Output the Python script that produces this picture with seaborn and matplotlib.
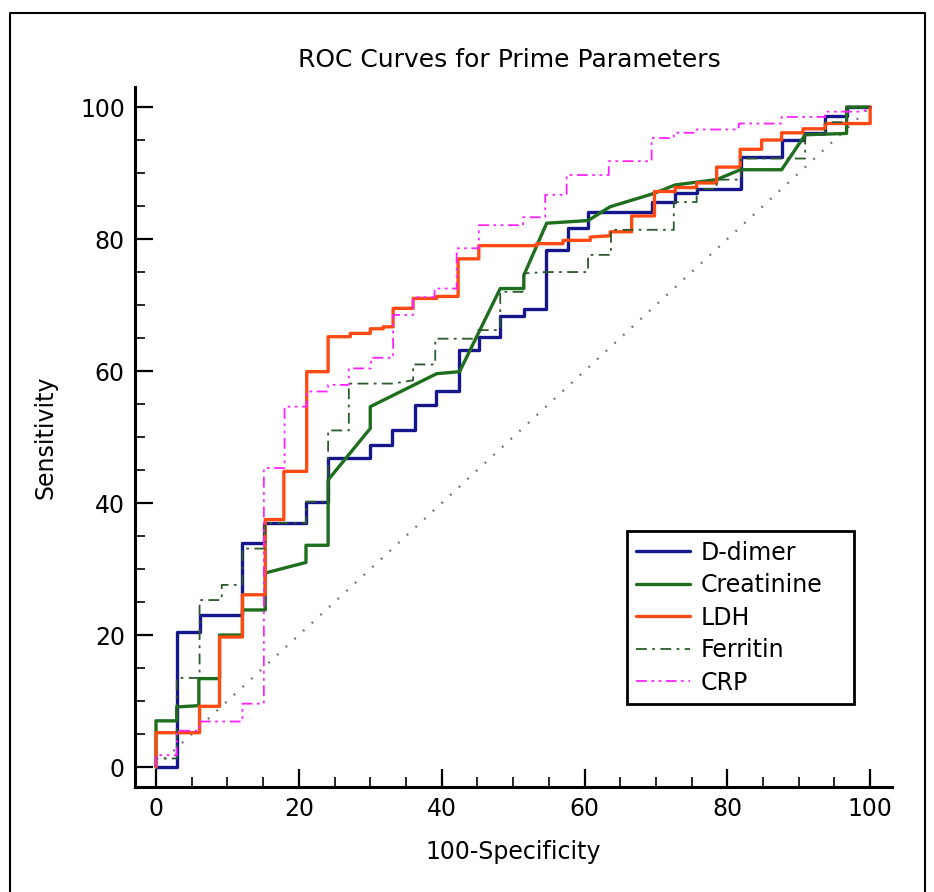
import numpy as np
import pandas as pd
import matplotlib
matplotlib.use("Agg")
import matplotlib.pyplot as plt
from matplotlib.lines import Line2D
import seaborn as sns

# ---------------- data (vertices of the ROC staircases) ----------------
ddimer_x = [0, 2.9, 2.9, 6.1, 6.1, 12.1, 12.1, 15.1, 15.1, 21, 21, 24.1, 24.1, 30, 30, 33, 33,
            36.3, 36.3, 39.2, 39.2, 42.4, 42.4, 45.2, 45.2, 48.2, 48.2, 51.5, 51.5, 54.6, 54.6,
            57.7, 57.7, 60.5, 60.5, 69.4, 69.4, 72.7, 72.7, 75.7, 75.7, 81.9, 81.9, 87.6, 87.6,
            90.7, 90.7, 93.7, 93.7, 96.7, 96.7, 100]
ddimer_y = [0, 0, 20.5, 20.5, 23, 23, 34, 34, 37, 37, 40.2, 40.2, 46.8, 46.8, 48.8, 48.8, 51.1,
            51.1, 54.8, 54.8, 56.9, 56.9, 63.2, 63.2, 65.1, 65.1, 68.3, 68.3, 69.4, 69.4, 78.3,
            78.3, 81.7, 81.7, 84.1, 84.1, 85.6, 85.6, 86.9, 86.9, 87.6, 87.6, 92.5, 92.5, 95,
            95, 96.1, 96.1, 98.6, 98.6, 100, 100]

creat_x = [0, 0, 2.9, 2.9, 6.0, 6.0, 8.9, 8.9, 12.1, 12.1, 15.3, 15.3, 21, 21, 24.1, 24.1, 30, 30,
           39.3, 42.5, 48.2, 51.5, 51.5, 54.7, 60.5, 63.6, 69.7, 72.7, 78.5, 81.8, 87.6, 90.9,
           96.7, 96.7, 100]
creat_y = [0, 7, 7, 9.1, 9.3, 13.4, 13.4, 20, 20, 23.8, 23.8, 29.4, 31, 33.6, 33.6, 43.5, 51.3, 54.6,
           59.6, 59.9, 72.5, 72.5, 74.5, 82.4, 82.8, 84.9, 86.9, 88.2, 89.0, 90.5, 90.5, 95.8,
           96, 100, 100]

ldh_x = [0, 0, 6.1, 6.1, 8.9, 8.9, 12.1, 12.1, 15.3, 15.3, 17.9, 17.9, 21.1, 21.1, 24.1, 24.1,
         27.2, 27.2, 30, 30, 31.8, 31.8, 33.2, 33.2, 36, 36, 39.3, 39.3, 42.3, 42.3, 45.2, 45.2,
         53.3, 53.3, 57, 57, 60.8, 60.8, 63.6, 63.6, 66.6, 66.6, 69.8, 69.8, 72.7, 72.7, 75.7,
         75.7, 78.5, 78.5, 81.8, 81.8, 84.8, 84.8, 87.6, 87.6, 90.6, 90.6, 93.7, 93.7, 100, 100]
ldh_y = [0, 5.2, 5.2, 9.2, 9.2, 19.7, 19.7, 26.1, 26.1, 37.5, 37.5, 44.8, 44.8, 59.9, 59.9, 65.2,
         65.2, 65.7, 65.7, 66.4, 66.4, 66.7, 66.7, 69.5, 69.5, 71, 71, 71.3, 71.3, 77, 77, 79,
         79, 79.3, 79.3, 79.8, 79.8, 80.3, 80.5, 81.1, 81.1, 83.5, 83.5, 87.2, 87.2, 87.8, 87.8,
         88.5, 88.5, 90.9, 90.9, 93.6, 93.6, 95, 95, 96.1, 96.1, 96.7, 96.7, 97.5, 97.5, 100]

ferritin_x = [0, 0, 2.9, 2.9, 6.1, 6.1, 9.2, 9.2, 12.1, 12.1, 15.3, 15.3, 21, 21, 24.1, 24.1, 27,
              27, 33.2, 36, 36, 39.1, 39.1, 45.1, 45.1, 48.2, 48.2, 51.5, 51.5, 54.6, 60.5, 60.5,
              63.7, 63.7, 72.5, 72.5, 75.7, 75.7, 78.5, 78.5, 81.9, 81.9, 90.9, 90.9, 93.7, 93.7,
              96.7, 96.7, 100]
ferritin_y = [0, 1.3, 1.3, 13.5, 13.5, 25.3, 25.3, 27.6, 27.6, 33.1, 33.1, 37, 37, 40.2, 40.2, 51,
              51, 58.1, 58.1, 58.6, 61, 61, 64.9, 64.9, 66.2, 66.2, 72, 72, 74.8, 75.0, 75.0, 77.6,
              77.6, 81.4, 81.4, 85.6, 85.6, 87.6, 87.6, 89, 89, 92.2, 92.2, 95.8, 95.8, 97.7,
              97.7, 100, 100]

crp_x = [0, 0, 2.9, 2.9, 6.1, 6.1, 12.1, 12.1, 15.1, 15.1, 18, 18, 21.1, 21.1, 24.1, 24.1, 27,
         27, 30.1, 30.1, 33.2, 33.2, 36, 36, 39, 39, 42.1, 42.1, 45.2, 45.2, 51.4, 51.4, 54.5,
         54.5, 57.5, 57.5, 63.4, 63.4, 69.4, 69.4, 72.5, 72.5, 75.7, 75.7, 81.6, 81.6, 87.6,
         87.6, 93.7, 93.7, 99, 100]
crp_y = [0, 1.8, 1.8, 5.5, 5.5, 6.9, 6.9, 9.6, 9.6, 45.3, 45.3, 54.6, 54.6, 56.9, 56.9, 57.9, 57.9,
         60.4, 60.4, 62, 62, 68.5, 68.5, 71.2, 71.2, 72.5, 72.5, 78.6, 78.6, 82.1, 82.1, 83.3,
         83.3, 86.7, 86.7, 89.7, 89.7, 91.8, 91.8, 95.3, 95.3, 96.1, 96.1, 96.6, 96.6, 97.5,
         97.5, 98.5, 98.5, 99.3, 99.3, 100]

diag_x = [0, 100]
diag_y = [0, 100]

series_names = ["D-dimer", "Creatinine", "LDH", "Ferritin", "CRP"]
x_ticks = [0, 20, 40, 60, 80, 100]
y_ticks = [0, 20, 40, 60, 80, 100]

# ---------------- styling ----------------
sns.set_style("white")
plt.rcParams["font.family"] = ["DejaVu Sans"]
plt.rcParams["text.color"] = "black"

fig = plt.figure(figsize=(9.34, 8.92), dpi=100)
ax = fig.add_axes([0.1441, 0.1179, 0.8105, 0.7843])

sns.lineplot(x=diag_x, y=diag_y, ax=ax, color="#6a6a6a", linewidth=1.6,
             linestyle=(0, (0.8, 4.5)), legend=False)

styles = [
    (ddimer_x, ddimer_y, "#16168c", 2.4, "-"),
    (creat_x, creat_y, "#1e6e1e", 2.4, "-"),
    (ldh_x, ldh_y, "#ff4a14", 2.4, "-"),
    (ferritin_x, ferritin_y, "#2a5a2a", 1.3, (0, (6, 3, 1.5, 3))),
    (crp_x, crp_y, "#ff22ff", 1.3, (0, (6, 2.5, 1.5, 2.5, 1.5, 2.5))),
]
for name, (xs, ys, col, lw, ls) in zip(series_names, styles):
    sns.lineplot(x=xs, y=ys, ax=ax, sort=False, estimator=None, color=col,
                 linewidth=lw, linestyle=ls, label=name)

ax.set_xlim(-3, 103)
ax.set_ylim(-3, 103)
ax.set_xticks(x_ticks)
ax.set_yticks(y_ticks)
ax.set_xticks(np.arange(0, 101, 5), minor=True)
ax.set_yticks(np.arange(0, 101, 5), minor=True)
ax.set_xticklabels([str(t) for t in x_ticks])
ax.set_yticklabels([str(t) for t in y_ticks])
ax.tick_params(which="major", direction="in", length=13, width=1.6, labelsize=17,
               colors="black", pad=7, left=True, bottom=True)
ax.tick_params(which="minor", direction="in", length=7, width=1.4, left=True, bottom=True)

for s in ["top", "right"]:
    ax.spines[s].set_visible(False)
for s in ["left", "bottom"]:
    ax.spines[s].set_color("black")
    ax.spines[s].set_linewidth(2.2)

ax.set_xlabel("100-Specificity", fontsize=17, labelpad=14, color="black")
ax.set_ylabel("Sensitivity", fontsize=17, labelpad=16, color="black")

fig.text(509 / 934, 1 - 60 / 892, "ROC Curves for Prime Parameters", ha="center",
         va="center", fontsize=18, color="black")

leg_w = 0.2999
leg_h = 0.2487
leg = ax.legend(loc="upper left", bbox_to_anchor=(0.6505, 0.3656 - leg_h, leg_w, leg_h),
                mode="expand", borderaxespad=0,
                frameon=True, fancybox=False, edgecolor="black", fontsize=17,
                handlelength=2.25, handletextpad=0.47, labelspacing=0.36, borderpad=0.4,
                framealpha=1)
leg.get_frame().set_linewidth(2)
for t in leg.get_texts():
    t.set_color("black")

# outer figure frame
fig.add_artist(Line2D([10 / 934, 10 / 934, 925 / 934, 925 / 934],
                      [0, 1 - 13 / 892, 1 - 13 / 892, 0],
                      transform=fig.transFigure, color="black", linewidth=1.5))

fig.savefig("out.png", dpi=100)
